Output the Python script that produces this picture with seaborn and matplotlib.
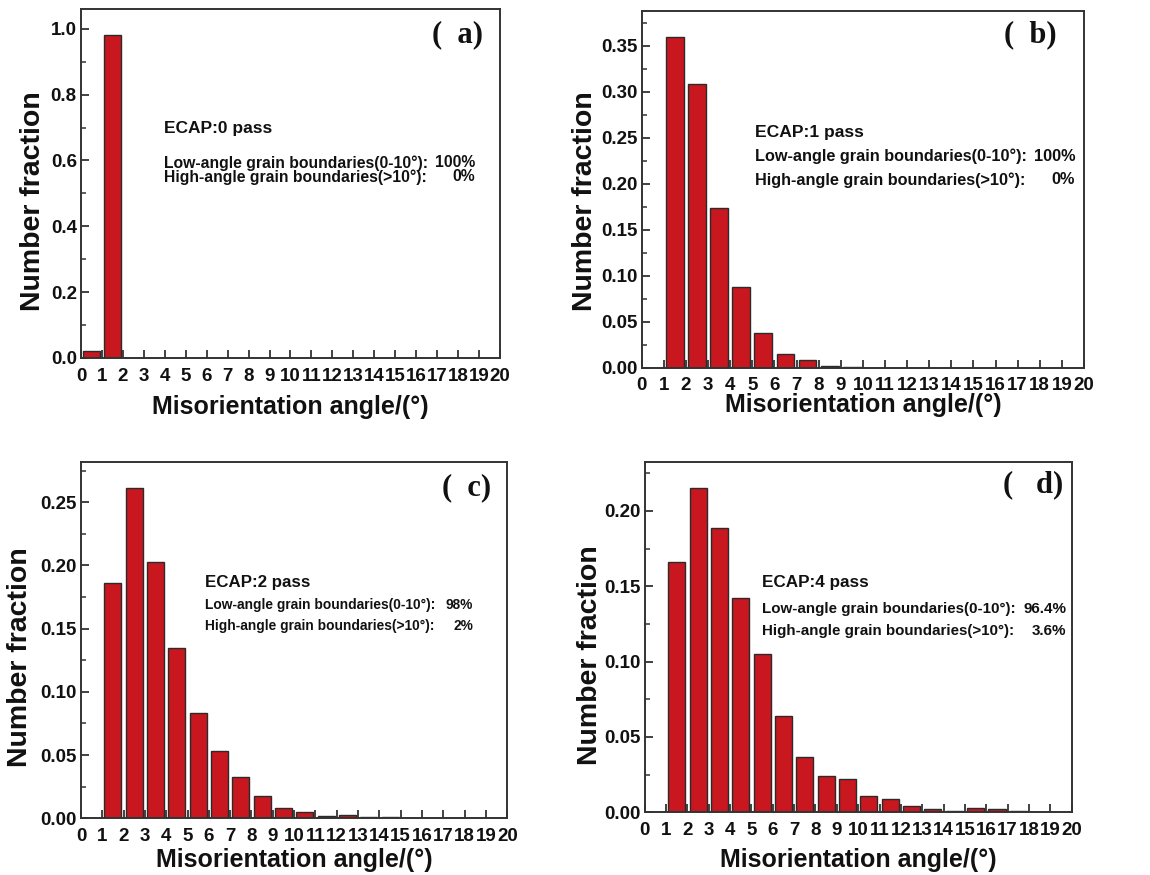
import numpy as np
import pandas as pd
import matplotlib
matplotlib.use("Agg")
import matplotlib.pyplot as plt
import seaborn as sns

# ---- data (bin lower edges in degrees, number fraction) ----
angles_a = [0, 1]
frac_a = [0.020, 0.980]

angles_b = [1, 2, 3, 4, 5, 6, 7, 8, 9]
frac_b = [0.359, 0.308, 0.173, 0.088, 0.038, 0.015, 0.008, 0.002, 0.001]

angles_c = [1, 2, 3, 4, 5, 6, 7, 8, 9, 10, 11, 12, 13, 14]
frac_c = [0.186, 0.261, 0.203, 0.135, 0.083, 0.053, 0.033, 0.018,
          0.008, 0.005, 0.002, 0.003, 0.001, 0.001]

angles_d = [1, 2, 3, 4, 5, 6, 7, 8, 9, 10, 11, 12, 13, 14, 15, 16, 17]
frac_d = [0.166, 0.215, 0.189, 0.142, 0.105, 0.064, 0.037, 0.024,
          0.022, 0.011, 0.009, 0.004, 0.002, 0.001, 0.003, 0.002, 0.001]

panel_tags = ["a", "b", "c", "d"]
passes = ["ECAP:0 pass", "ECAP:1 pass", "ECAP:2 pass", "ECAP:4 pass"]
low_vals = ["100%", "100%", "98%", "96.4%"]
high_vals = ["0%", "0%", "2%", "3.6%"]
x_ticks = list(range(0, 21))

sns.set_theme(style="ticks")
plt.rcParams["font.family"] = ["Liberation Sans", "DejaVu Sans"]
plt.rcParams["font.weight"] = "bold"
plt.rcParams["text.color"] = "#111111"
plt.rcParams["axes.labelcolor"] = "#111111"
plt.rcParams["xtick.labelcolor"] = "#111111"
plt.rcParams["ytick.labelcolor"] = "#111111"

BAR = "#c8171e"
EDGE = "#2b2b2b"
SPINE = "#333333"

fig = plt.figure(figsize=(11.5, 8.75), dpi=100)

# axes rectangles [left, bottom, width, height] in figure fraction
rects = [
    [0.0704, 0.5909, 0.3644, 0.3988],
    [0.5580, 0.5798, 0.3846, 0.4080],
    [0.0704, 0.0648, 0.3707, 0.4069],
    [0.5606, 0.0717, 0.3713, 0.4000],
]
ylims = [1.06, 0.388, 0.2816, 0.2323]
ymajor = [0.2, 0.05, 0.05, 0.05]
yfmt = ["{:.1f}", "{:.2f}", "{:.2f}", "{:.2f}"]
data = [(angles_a, frac_a), (angles_b, frac_b), (angles_c, frac_c), (angles_d, frac_d)]
txt_pos = [  # (x_left, y_title, y_low, y_high, x_right)
    (0.198, 0.659, 0.559, 0.519, 0.940),
    (0.257, 0.659, 0.591, 0.526, 0.980),
    (0.292, 0.662, 0.599, 0.540, 0.920),
    (0.275, 0.657, 0.580, 0.518, 0.987),
]
title_fs = [12.5, 12.6, 12.2, 12.3]
line_fs = [11.3, 11.7, 9.9, 10.9]
tag_pos = [(0.960, 0.927), (0.938, 0.934), (0.963, 0.928), (0.980, 0.937)]
tag_gap = ["  ", "  ", "  ", "   "]
ylabel_xy = [(-0.1146, 0.450), (-0.128, 0.467), (-0.143, 0.454), (-0.128, 0.449)]
xlabel_xy = [(0.5, -0.140), (0.5, -0.105), (0.5, -0.117), (0.5, -0.136)]

for i in range(4):
    ax = fig.add_axes(rects[i])
    ang, fr = data[i]
    df = pd.DataFrame({"angle": [a + 0.5 for a in ang], "frac": fr})
    sns.histplot(data=df, x="angle", weights="frac", binwidth=1, binrange=(0, 20),
                 shrink=0.8, color=BAR, edgecolor=EDGE, linewidth=1.0,
                 alpha=1.0, ax=ax)
    ax.set_xlim(0, 20)
    ax.set_ylim(0, ylims[i])
    ax.set_xticks(x_ticks)
    ax.set_xticklabels([str(t) for t in x_ticks])
    yt = np.arange(0, ylims[i] + 1e-9, ymajor[i])
    ax.set_yticks(yt)
    ax.set_yticklabels([yfmt[i].format(v) for v in yt])
    ax.set_yticks(np.arange(ymajor[i] / 2, ylims[i], ymajor[i]), minor=True)
    ax.tick_params(axis="both", which="major", direction="in", length=6,
                   width=1.3, color=SPINE, labelsize=13.5, pad=3,
                   top=False, right=False)
    ax.tick_params(axis="x", which="major", pad=7)
    ax.tick_params(axis="y", which="minor", direction="in", length=3.5,
                   width=1.1, color=SPINE, left=True, right=False)
    ax.tick_params(axis="x", which="minor", bottom=False, top=False)
    for lab in ax.get_xticklabels() + ax.get_yticklabels():
        lab.set_fontweight("bold")
    for sp in ax.spines.values():
        sp.set_visible(True)
        sp.set_color(SPINE)
        sp.set_linewidth(1.4)
    ax.set_xlabel("Misorientation angle/(°)", fontsize=18, fontweight="bold")
    ax.set_ylabel("Number fraction", fontsize=20.5, fontweight="bold")
    ax.xaxis.set_label_coords(*xlabel_xy[i])
    ax.yaxis.set_label_coords(*ylabel_xy[i])
    ax.xaxis.label.set_va("center")
    ax.yaxis.label.set_va("center")

    xl, yt_, ylow, yhigh, xr = txt_pos[i]
    ax.text(xl, yt_, passes[i], transform=ax.transAxes, fontsize=title_fs[i],
            fontweight="bold", ha="left", va="center")
    ax.text(xl, ylow, "Low-angle grain boundaries(0-10°):", transform=ax.transAxes,
            fontsize=line_fs[i], fontweight="bold", ha="left", va="center")
    ax.text(xr, ylow, low_vals[i], transform=ax.transAxes,
            fontsize=line_fs[i], fontweight="bold", ha="right", va="center")
    ax.text(xl, yhigh, "High-angle grain boundaries(>10°):", transform=ax.transAxes,
            fontsize=line_fs[i], fontweight="bold", ha="left", va="center")
    ax.text(xr, yhigh, high_vals[i], transform=ax.transAxes,
            fontsize=line_fs[i], fontweight="bold", ha="right", va="center")

    tx, ty = tag_pos[i]
    ax.text(tx, ty, "(" + tag_gap[i] + panel_tags[i] + ")", transform=ax.transAxes,
            fontsize=22, fontweight="bold", ha="right", va="center",
            family=["Liberation Serif", "DejaVu Serif"])

fig.savefig("out.png", dpi=100)
